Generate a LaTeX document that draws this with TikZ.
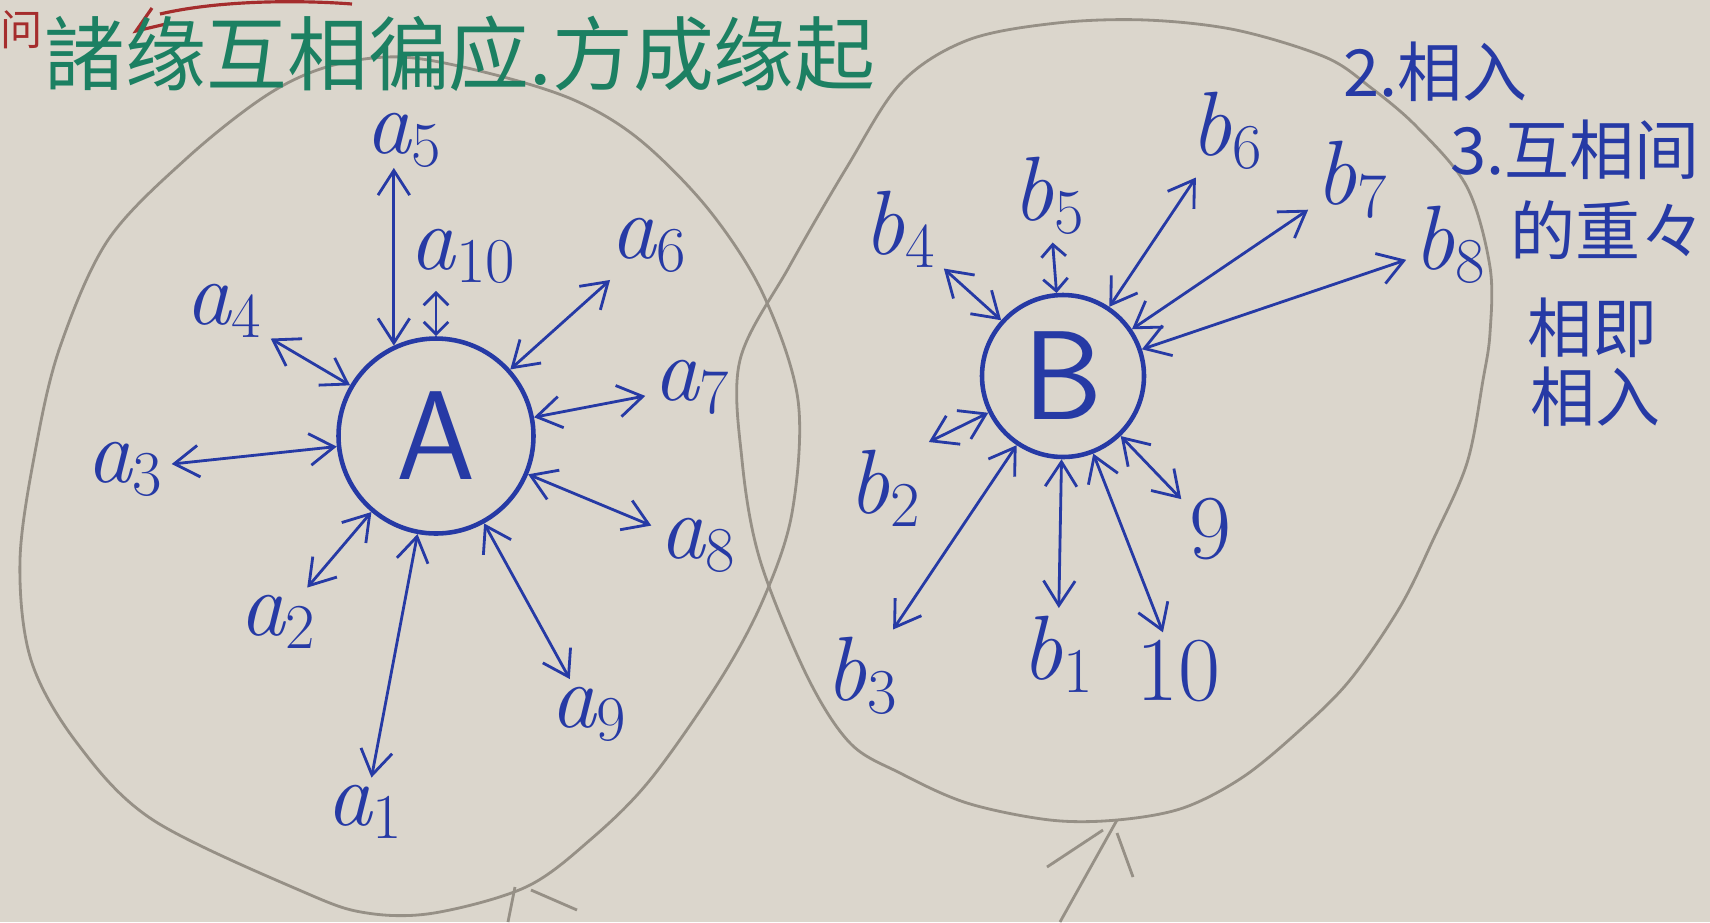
\documentclass[tikz,border=0pt]{standalone}
\usepackage{fontspec}
\newfontfamily\cjk{Noto Sans CJK SC}
\usetikzlibrary{arrows.meta}

\definecolor{ink}{RGB}{38,58,165}
\definecolor{pencil}{RGB}{150,144,134}
\definecolor{paper}{RGB}{219,214,204}
\definecolor{marker}{RGB}{28,128,98}
\definecolor{redpen}{RGB}{165,45,45}

\newcommand\lbl[2]{\textit{#1}\textsubscript{#2}}

\tikzset{
  hub/.style={circle, draw=ink, line width=1.3pt, text=ink, inner sep=0pt,
    font=\sffamily\fontsize{36}{36}\selectfont},
  lab/.style={text=ink, inner sep=2pt, font=\fontsize{26}{26}\selectfont},
  link/.style={{Straight Barb[length=7pt,width=9pt]}-{Straight Barb[length=7pt,width=9pt]},
    draw=ink, line width=0.8pt},
  shortlink/.style={{Straight Barb[length=3.5pt,width=7pt]}-{Straight Barb[length=3.5pt,width=7pt]},
    draw=ink, line width=0.8pt},
  note/.style={text=ink, anchor=west, inner sep=0pt, font=\cjk\fontsize{18.5}{18.5}\selectfont},
  balloon/.style={draw=pencil, line width=0.8pt},
}

\begin{document}
\begin{tikzpicture}[x=0.1mm, y=-0.1mm]
  \fill[paper] (0,0) rectangle (1710,922);
  \useasboundingbox (0,0) rectangle (1710,922);

  \draw[balloon] plot[smooth cycle, tension=0.55] coordinates {
    (402,57) (488,73) (574,100) (640,140) (709,210) (763,294) (798,400)
    (792,513) (763,600) (720,680) (650,780) (590,840) (526,887) (434,913)
    (367,913) (306,893) (153,820) (77,743) (31,660) (20,560) (36,447)
    (60,347) (108,240) (187,158) (267,95) (330,66)};
  \draw[balloon] (515,887) -- (508,922);
  \draw[balloon] (531,890) -- (577,910);

  \draw[balloon] plot[smooth cycle, tension=0.55] coordinates {
    (1057,23) (1146,20) (1236,30) (1325,57) (1370,87) (1417,127) (1467,187)
    (1490,267) (1490,333) (1483,380) (1467,463) (1433,540) (1400,607)
    (1350,680) (1300,730) (1243,777) (1183,808) (1117,820) (1050,820)
    (967,803) (900,773) (850,743) (807,676) (760,560) (742,460) (740,360)
    (789,267) (847,167) (901,83) (968,40)};
  \draw[balloon] (1117,820) -- (1060,922);
  \draw[balloon] (1103,830) -- (1047,867);
  \draw[balloon] (1117,833) -- (1133,877);

  \draw[redpen, line width=0.9pt] (152,8) -- (136,31) -- (166,24);
  \draw[redpen, line width=0.9pt] (160,14) .. controls (220,0) and (300,0) .. (352,4);
  \node[text=redpen, font=\cjk\fontsize{12}{12}\selectfont] (wen) at (22,30) {问};
  \node[text=marker, anchor=west, inner sep=0pt, font=\cjk\fontsize{23}{23}\selectfont]
    (motto) at (44,54) {諸缘互相徧应.方成缘起};

  \draw
    (436,436) node[hub, minimum size=1.95cm] (A){A}
    (365,812) node[lab] (a1){\lbl{a}{1}}
    (278,622) node[lab] (a2){\lbl{a}{2}}
    (125,469) node[lab] (a3){\lbl{a}{3}}
    (224,311) node[lab] (a4){\lbl{a}{4}}
    (404,140) node[lab, inner sep=0pt] (a5){\lbl{a}{5}}
    (649,245) node[lab] (a6){\lbl{a}{6}}
    (692,387) node[lab] (a7){\lbl{a}{7}}
    (698,545) node[lab] (a8){\lbl{a}{8}}
    (589,714) node[lab] (a9){\lbl{a}{9}}
    (463,256) node[lab] (a10){\lbl{a}{10}};
  \begin{scope}[link]
    \draw (A) to (a1);
    \draw (A) to (a2);
    \draw (A) to (a3);
    \draw (A) to (a4);
    \draw (A.115) to (A.115 |- a5.south);
    \draw (A) to (a6);
    \draw (A) to (a7);
    \draw (A) to (a8);
    \draw (A) to (a9);
  \end{scope}
  \draw[shortlink] (A) to (A |- a10.south);

  \draw
    (1063,376) node[hub, minimum size=1.62cm] (B){B}
    (1058,654) node[lab] (b1){\lbl{b}{1}}
    (885,488) node[lab] (b2){\lbl{b}{2}}
    (862,676) node[lab] (b3){\lbl{b}{3}}
    (900,229) node[lab] (b4){\lbl{b}{4}}
    (1049,196) node[lab] (b5){\lbl{b}{5}}
    (1227,131) node[lab] (b6){\lbl{b}{6}}
    (1352,180) node[lab] (b7){\lbl{b}{7}}
    (1450,245) node[lab] (b8){\lbl{b}{8}}
    (1210,529) node[lab] (b9){9}
    (1178,671) node[lab] (b10){10};
  \begin{scope}[link]
    \draw (B) to (b1);
    \draw (B) to (b2.north east);
    \draw (B) to (b3);
    \draw (B) to (b4);
    \draw (B) to (b6);
    \draw (B) to (b7);
    \draw (B) to (b8);
    \draw (B) to (b9);
    \draw (B) to (b10);
  \end{scope}
  \draw[shortlink] (B) to (b5);

  \node[note] (n2) at (1343,72) {2.相入};
  \node[note] (n3) at (1450,150) {3.互相间};
  \node[note] (n4) at (1510,230) {的重々};
  \node[note] (n5) at (1527,328) {相即};
  \node[note] (n6) at (1530,397) {相入};
\end{tikzpicture}
\end{document}
